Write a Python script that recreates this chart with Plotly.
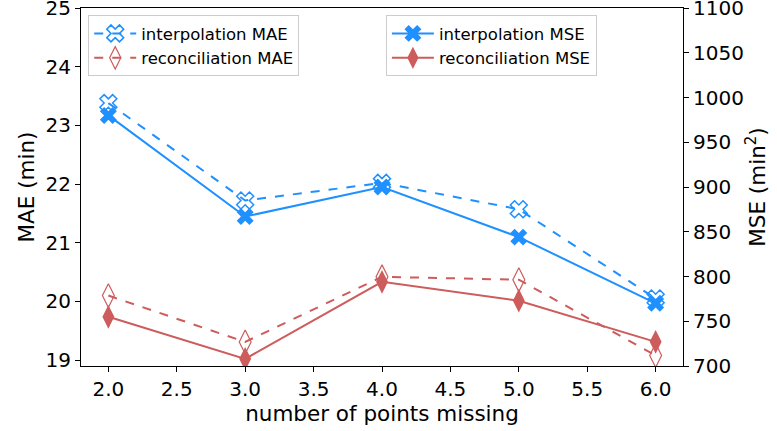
import plotly.graph_objects as go

points_missing = [2.0, 3.0, 4.0, 5.0, 6.0]
interp_mae = [23.38, 21.72, 22.02, 21.57, 20.05]
recon_mae = [20.10, 19.31, 20.42, 20.37, 19.08]
interp_mse = [980, 867, 900, 844, 770]
recon_mse = [755, 708, 794, 773, 727]

x_ticks = [2.0, 2.5, 3.0, 3.5, 4.0, 4.5, 5.0, 5.5, 6.0]
mae_ticks = [19, 20, 21, 22, 23, 24, 25]
mse_ticks = [700, 750, 800, 850, 900, 950, 1000, 1050, 1100]

BLUE = "#1E90FF"
RED = "#CD5C5C"
FONT = "DejaVu Sans"

fig = go.Figure()
fig.add_trace(go.Scatter(
    x=points_missing, y=interp_mae, name="interpolation MAE", mode="lines+markers",
    line=dict(color=BLUE, width=2, dash="dash"),
    marker=dict(symbol="x-open", size=15, color=BLUE, line=dict(width=1.5, color=BLUE)),
    legend="legend", yaxis="y"))
fig.add_trace(go.Scatter(
    x=points_missing, y=recon_mae, name="reconciliation MAE", mode="lines+markers",
    line=dict(color=RED, width=2, dash="dash"),
    marker=dict(symbol="diamond-tall-open", size=17, color=RED, line=dict(width=1.2, color=RED)),
    legend="legend", yaxis="y"))
fig.add_trace(go.Scatter(
    x=points_missing, y=interp_mse, name="interpolation MSE", mode="lines+markers",
    line=dict(color=BLUE, width=2),
    marker=dict(symbol="x", size=15, color=BLUE, line=dict(width=0)),
    legend="legend2", yaxis="y2"))
fig.add_trace(go.Scatter(
    x=points_missing, y=recon_mse, name="reconciliation MSE", mode="lines+markers",
    line=dict(color=RED, width=2),
    marker=dict(symbol="diamond-tall", size=17, color=RED, line=dict(width=0)),
    legend="legend2", yaxis="y2"))

axis_common = dict(showline=True, linecolor="black", linewidth=1.2, ticks="outside",
                   ticklen=5, tickcolor="black", showgrid=False, zeroline=False,
                   ticklabeloverflow="allow", automargin=False,
                   tickfont=dict(family=FONT, size=20, color="black"))

legend_common = dict(bgcolor="rgba(255,255,255,0.8)", bordercolor="#cccccc", borderwidth=1,
                     font=dict(family=FONT, size=16.5, color="black"),
                     yanchor="top", y=0.98, tracegroupgap=0, itemwidth=42)

TITLE_FONT = dict(family=FONT, size=21.5, color="black")

fig.update_layout(
    width=777, height=431,
    margin=dict(l=81, r=94, t=8, b=65, autoexpand=False),
    paper_bgcolor="white", plot_bgcolor="white",
    font=dict(family=FONT, color="black"),
    xaxis=dict(range=[1.8, 6.2], tickmode="array", tickvals=x_ticks,
               ticktext=[f"{v:.1f}" for v in x_ticks], mirror=True,
               title=dict(text="number of points missing", font=TITLE_FONT, standoff=2),
               **axis_common),
    yaxis=dict(range=[18.9, 25.0001], tickmode="array", tickvals=mae_ticks,
               ticktext=[str(v) for v in mae_ticks], mirror=False,
               title=dict(text="MAE (min)", font=TITLE_FONT, standoff=4),
               **axis_common),
    yaxis2=dict(range=[700, 1100.01], tickmode="array", tickvals=mse_ticks,
                ticktext=[str(v) for v in mse_ticks], overlaying="y", side="right",
                title=dict(text="MSE (min<sup>2</sup>)", font=TITLE_FONT, standoff=6),
                **axis_common),
    legend=dict(x=0.012, xanchor="left", **legend_common),
    legend2=dict(x=0.857, xanchor="right", **legend_common),
    showlegend=True,
)

fig.write_html("out.html")
